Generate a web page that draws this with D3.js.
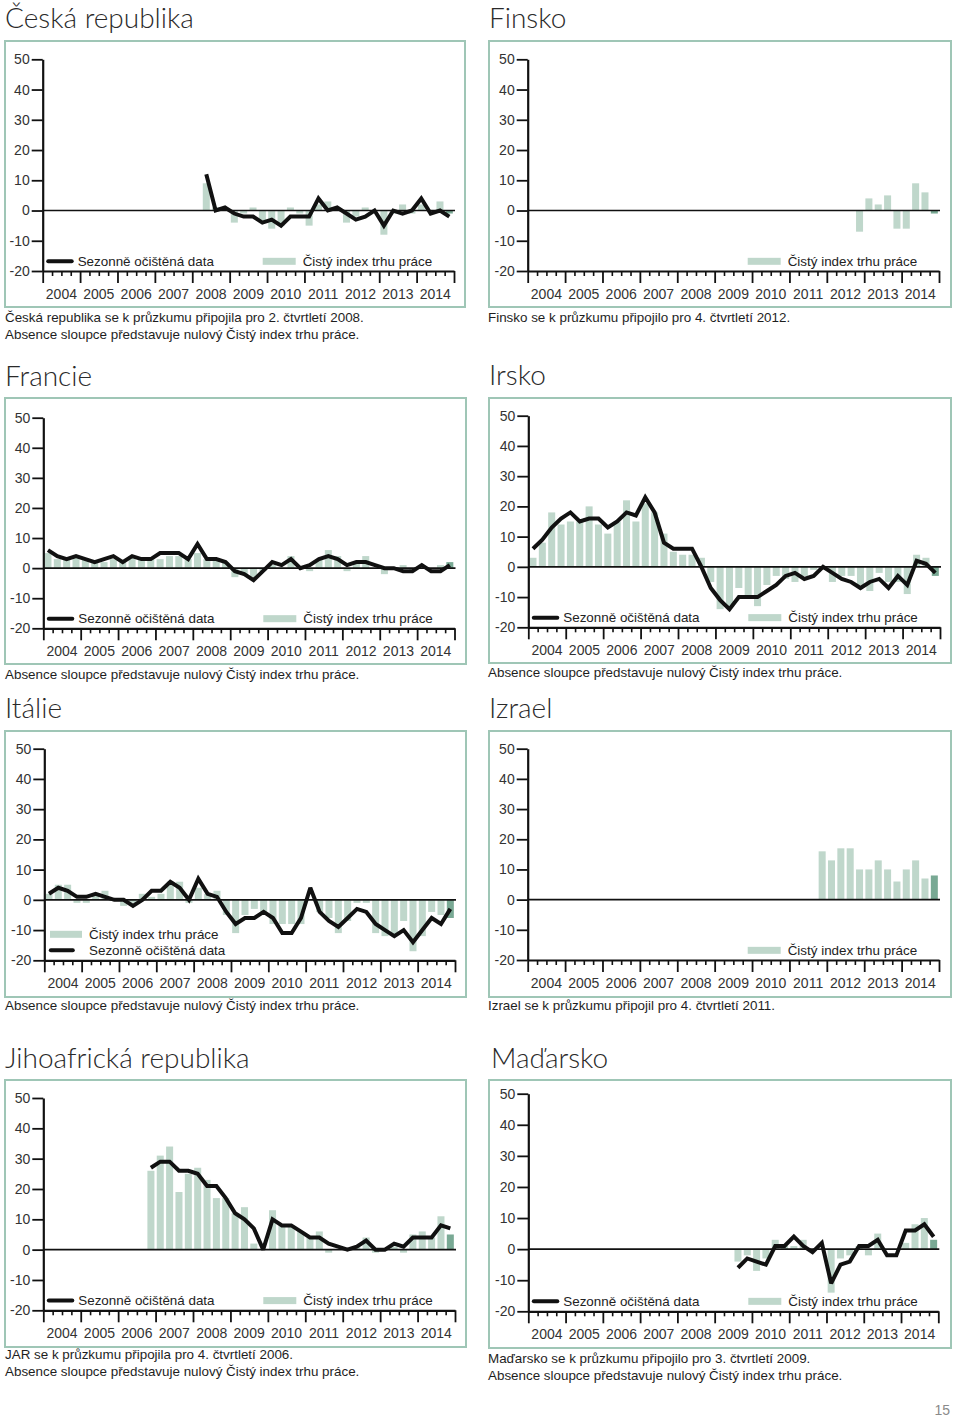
<!DOCTYPE html>
<html><head><meta charset="utf-8">
<script src="https://cdn.jsdelivr.net/npm/d3@7"></script>
<style>
body{margin:0;background:#fff;}
svg{display:block;}
</style></head>
<body>
<svg id="c" width="960" height="1417"></svg>
<script>
// ---------- DATA ----------
const years = ["2004","2005","2006","2007","2008","2009","2010","2011","2012","2013","2014"];
const yTicks = [50,40,30,20,10,0,-10,-20];
const lblLine = "Sezonně očištěná data";
const lblBar = "Čistý index trhu práce";
const absNote = "Absence sloupce představuje nulový Čistý index trhu práce.";

// Česká republika (from 2008 Q2 -> quarter index 17)
const czStart = 17;
const czLine = [12,0,1,-1,-2,-2,-4,-3,-5,-2,-2,-2,4,0,1,-1,-3,-2,0,-5,0,-1,0,4,-1,0,-2];
const czBars = [9,1,0,-4,-1,1,-4,-6,-5,1,-1,-5,2,3,1,-4,-2,1,0,-8,-1,2,-1,2,0,3,-1];

// Finsko (from 2012 Q4 -> 35)
const fiStart = 35;
const fiBars = [-7,4,2,5,-6,-6,9,6,-1];

// Francie (from 2004 Q1)
const frStart = 0;
const frLine = [6,4,3,4,3,2,3,4,2,4,3,3,5,5,5,3,8,3,3,2,-1,-2,-4,-1,2,1,3,0,1,3,4,3,1,2,2,1,0,0,-1,-1,1,-1,-1,1];
const frBars = [5,3,3,4,3,2,2,3,2,4,3,3,3,4,4,3,5,3,3,2,-3,-2,-3,-1,1,0,4,0,-1,3,6,4,-1,2,4,0,-2,0,1,-1,0,0,1,2];

// Irsko
const ieStart = 0;
const ieLine = [6,9,13,16,18,15,16,16,13,15,18,17,23,18,8,6,6,6,0,-7,-11,-14,-10,-10,-10,-8,-6,-3,-2,-4,-3,0,-2,-4,-5,-7,-5,-4,-7,-3,-6,2,1,-2];
const ieBars = [3,8,18,14,15,15,20,14,11,15,22,15,21,18,11,5,4,4,3,-5,-14,-13,-7,-10,-13,-6,-3,-4,-5,-3,-1,-1,-5,-3,-3,-6,-8,-2,-5,-5,-9,4,3,-3];

// Itálie
const itStart = 0;
const itLine = [2,4,3,1,1,2,1,0,0,-2,0,3,3,6,4,0,7,2,1,-4,-8,-6,-6,-4,-6,-11,-11,-6,4,-4,-7,-9,-6,-3,-4,-8,-10,-12,-10,-14,-10,-6,-8,-3];
const itBars = [2,5,5,-1,-1,2,3,0,-2,-1,2,1,2,6,6,-1,4,2,3,-5,-11,-5,-3,-4,-8,-8,-8,-8,0,-4,-6,-11,-7,-1,-1,-11,-12,-12,-7,-17,-12,-4,-5,-6];

// Izrael (from 2011 Q4 -> 31)
const ilStart = 31;
const ilBars = [16,13,17,17,10,10,13,10,6,10,13,7,8];

// Jihoafrická republika (from 2006 Q4 -> 11)
const zaStart = 11;
const zaLine = [27,29,29,26,26,25,21,21,17,12,10,7,0,10,8,8,6,4,4,2,1,0,1,3,0,0,2,1,4,4,4,8,7];
const zaBars = [26,31,34,19,25,27,23,17,17,12,14,2,0,13,8,8,6,4,6,-1,0,0,1,4,-1,0,1,-1,5,6,4,11,5];

// Maďarsko (from 2009 Q3 -> 22)
const huStart = 22;
const huLine = [-6,-3,-4,-5,1,1,4,1,-1,2,-11,-5,-4,1,1,3,-2,-2,6,6,8,4];
const huBars = [-4,-2,-7,-3,3,1,1,3,0,0,-14,-3,-2,1,-2,5,0,0,2,8,10,3];

// ---------- LAYOUT ----------
const panels = [
 {title:"Česká republika", tx:5, ty:28, box:[5,41,460,266], ax:[42.7,454], yr:[59.3,271],
  start:czStart, line:czLine, bars:czBars, legend:"std",
  notes:["Česká republika se k průzkumu připojila pro 2. čtvrtletí 2008.", absNote], nx:5, ny:322},
 {title:"Finsko", tx:489, ty:28, box:[489,41,462,266], ax:[527.7,939], yr:[59.3,271],
  start:fiStart, line:null, bars:fiBars, legend:"bar",
  notes:["Finsko se k průzkumu připojilo pro 4. čtvrtletí 2012."], nx:488, ny:322},
 {title:"Francie", tx:5, ty:386, box:[5,398,461,266], ax:[43.3,454.5], yr:[417.7,628.3],
  start:frStart, line:frLine, bars:frBars, legend:"std",
  notes:[absNote], nx:5, ny:679},
 {title:"Irsko", tx:489, ty:385, box:[489,398,462,265], ax:[528.3,940], yr:[415.7,627.3],
  start:ieStart, line:ieLine, bars:ieBars, legend:"std",
  notes:[absNote], nx:488, ny:677},
 {title:"Itálie", tx:5, ty:718, box:[5,731,461,266], ax:[44.3,455], yr:[748.7,960.3],
  start:itStart, line:itLine, bars:itBars, legend:"ita",
  notes:[absNote], nx:5, ny:1010},
 {title:"Izrael", tx:489, ty:718, box:[489,731,462,266], ax:[527.7,939], yr:[748.7,960],
  start:ilStart, line:null, bars:ilBars, legend:"bar",
  notes:["Izrael se k průzkumu připojil pro 4. čtvrtletí 2011."], nx:488, ny:1010},
 {title:"Jihoafrická republika", tx:5, ty:1068, box:[5,1080,461,267], ax:[43.3,455], yr:[1098,1310.3],
  start:zaStart, line:zaLine, bars:zaBars, legend:"std",
  notes:["JAR se k průzkumu připojila pro 4. čtvrtletí 2006.", absNote], nx:5, ny:1359},
 {title:"Maďarsko", tx:491, ty:1068, box:[489,1080,462,268], ax:[528.3,938.3], yr:[1093.7,1311.3],
  start:huStart, line:huLine, bars:huBars, legend:"std",
  notes:["Maďarsko se k průzkumu připojilo pro 3. čtvrtletí 2009.", absNote], nx:488, ny:1363}
];

const BAR = "#bfd7cb", BAR_LAST = "#79a994", BORDER = "#9fc6b6";
const FONT = "'Liberation Sans', Arial, Helvetica, sans-serif";
const TFONT = "Lato, 'Open Sans', sans-serif";

const svg = d3.select("#c");

function drawPanel(p){
  const g = svg.append("g");
  // title
  g.append("text").attr("x", p.tx).attr("y", p.ty).text(p.title)
    .attr("font-family", TFONT).attr("font-weight", 300).attr("font-size", 28).attr("fill", "#2a2a2a");
  // box
  g.append("rect").attr("x", p.box[0]).attr("y", p.box[1]).attr("width", p.box[2]).attr("height", p.box[3])
    .attr("fill", "none").attr("stroke", BORDER).attr("stroke-width", 2);

  const q = d3.scaleBand().domain(d3.range(44)).range(p.ax).paddingInner(0.25).paddingOuter(0.125);
  const qLin = d3.scaleLinear().domain([0,44]).range(p.ax);
  const y = d3.scaleLinear().domain([-20,50]).range([p.yr[1], p.yr[0]]);
  const yb = d3.scaleBand().domain(years).range(p.ax);

  // bars
  const bd = p.bars.map((v,k)=>({i:p.start+k, v, last:k===p.bars.length-1}));
  g.append("g").selectAll("rect").data(bd).join("rect")
    .attr("x", d=>q(d.i)).attr("width", q.bandwidth())
    .attr("y", d=>y(Math.max(0,d.v))).attr("height", d=>Math.abs(y(d.v)-y(0)))
    .attr("fill", d=>d.last?BAR_LAST:BAR);

  // zero line
  g.append("line").attr("x1", p.ax[0]).attr("x2", p.ax[1]+1).attr("y1", y(0)).attr("y2", y(0))
    .attr("stroke", "#111").attr("stroke-width", 1.7);

  // y axis
  const ya = g.append("g").attr("transform", `translate(${p.ax[0]},0)`)
    .call(d3.axisLeft(y).tickValues(yTicks).tickSize(11).tickSizeOuter(0).tickPadding(2).tickFormat(d=>String(d)));
  ya.select(".domain").attr("stroke", "#111").attr("stroke-width", 2.2);
  ya.selectAll(".tick line").attr("stroke", "#111").attr("stroke-width", 1.8);
  ya.selectAll("text").attr("font-family", FONT).attr("font-size", 14).attr("fill", "#333");

  // x axis: line + quarter ticks + year ticks + labels
  const xg = g.append("g").attr("transform", `translate(0,${y(-20)})`);
  const minor = xg.append("g").call(d3.axisBottom(qLin).tickValues(d3.range(0,45).filter(i=>i%4!==0)).tickSize(5).tickSizeOuter(0).tickFormat(""));
  minor.select(".domain").attr("stroke", "#111").attr("stroke-width", 2.2);
  minor.selectAll(".tick line").attr("stroke", "#111").attr("stroke-width", 1.6);
  const major = xg.append("g").call(d3.axisBottom(qLin).tickValues(d3.range(0,45,4)).tickSize(12).tickFormat(""));
  major.select(".domain").remove();
  major.selectAll(".tick line").attr("stroke", "#111").attr("stroke-width", 1.8);
  const lab = xg.append("g").call(d3.axisBottom(yb).tickSize(0).tickPadding(18));
  lab.select(".domain").remove();
  lab.selectAll("text").attr("font-family", FONT).attr("font-size", 14).attr("fill", "#333");

  // line
  if(p.line){
    const ld = p.line.map((v,k)=>({i:p.start+k, v}));
    g.append("path").datum(ld)
      .attr("d", d3.line().x(d=>q(d.i)+q.bandwidth()/2).y(d=>y(d.v)))
      .attr("fill", "none").attr("stroke", "#111").attr("stroke-width", 4)
      .attr("stroke-linejoin", "miter").attr("stroke-miterlimit", 2.5);
  }

  // legend
  const a = p.ax[0];
  const tx = (x,yy,t)=>g.append("text").attr("x", x).attr("y", yy).attr("dy","0.35em").text(t)
      .attr("font-family", FONT).attr("font-size", 13.4).attr("fill", "#222");
  if(p.legend==="std"){
    const ly = y(-16.8);
    g.append("line").attr("x1", a+5.5).attr("x2", a+29).attr("y1", ly).attr("y2", ly)
      .attr("stroke", "#111").attr("stroke-width", 4).attr("stroke-linecap","round");
    tx(a+35, ly, lblLine);
    g.append("rect").attr("x", a+220).attr("y", ly-3.5).attr("width", 33).attr("height", 7).attr("fill", BAR);
    tx(a+260, ly, lblBar);
  } else if(p.legend==="bar"){
    const ly = y(-16.8);
    g.append("rect").attr("x", a+220).attr("y", ly-3.5).attr("width", 33).attr("height", 7).attr("fill", BAR);
    tx(a+260, ly, lblBar);
  } else if(p.legend==="ita"){
    const l1 = y(-11.4), l2 = y(-16.7);
    g.append("rect").attr("x", a+5.7).attr("y", l1-3.5).attr("width", 32).attr("height", 7).attr("fill", BAR);
    tx(a+44.7, l1, lblBar);
    g.append("line").attr("x1", a+6.5).attr("x2", a+28.5).attr("y1", l2).attr("y2", l2)
      .attr("stroke", "#111").attr("stroke-width", 4).attr("stroke-linecap","round");
    tx(a+44.7, l2, lblLine);
  }

  // notes
  p.notes.forEach((t,k)=>{
    g.append("text").attr("x", p.nx).attr("y", p.ny + k*16.5).text(t)
      .attr("font-family", FONT).attr("font-size", 13.4).attr("fill", "#1e1e1e");
  });
}

panels.forEach(drawPanel);

svg.append("text").attr("x", 950).attr("y", 1415).attr("text-anchor","end").text("15")
  .attr("font-family", FONT).attr("font-size", 14).attr("fill", "#8a8a8a");
</script>
</body></html>
